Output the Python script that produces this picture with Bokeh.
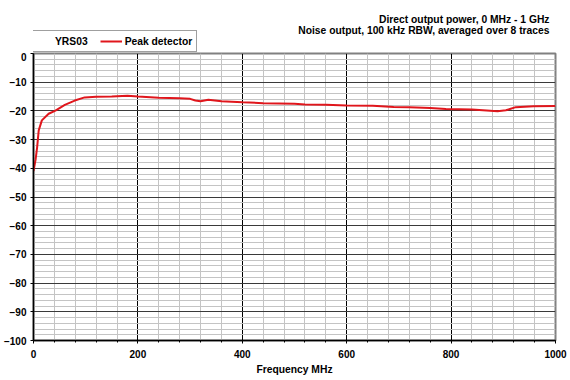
from bokeh.plotting import figure
from bokeh.models import (Range1d, SingleIntervalTicker, Legend, LegendItem, Label)
from bokeh.layouts import column
from bokeh.embed import file_html
from bokeh.resources import INLINE

# ---- data ----
freq_mhz = [0, 4, 7, 10, 16, 29, 42, 60, 79, 98, 120, 150, 180, 200, 240, 280, 300,
            310, 320, 335, 360, 400, 440, 500, 520, 560, 600, 650, 690, 720, 760,
            790, 840, 889, 905, 924, 958, 1000]
level_db = [-41.0, -37.0, -32.6, -26.8, -23.3, -21.0, -19.9, -17.9, -16.4, -15.3, -15.1,
            -15.0, -14.7, -15.0, -15.4, -15.6, -15.8, -16.4, -16.6, -16.1, -16.6, -17.0,
            -17.3, -17.5, -17.8, -17.9, -18.1, -18.2, -18.6, -18.7, -19.0, -19.3, -19.5,
            -20.1, -19.8, -18.7, -18.4, -18.3]
title_lines = ["Direct output power, 0 MHz - 1 GHz",
               "Noise output, 100 kHz RBW, averaged over 8 traces"]
legend_group = "YRS03"
series_name = "Peak detector"
x_label = "Frequency MHz"

FONT = "Liberation Sans"
FS = "10.3px"
LINE_COLOR = "#e0161c"
TOP_H = 52
LEFT, RIGHT = 30, 18

# ---------- header strip (titles + legend) ----------
top = figure(width=570, height=TOP_H, output_backend="svg", toolbar_location=None,
             x_range=Range1d(0, 1000), y_range=Range1d(0, TOP_H),
             x_axis_location=None, y_axis_location=None,
             min_border_left=LEFT, min_border_right=RIGHT,
             min_border_top=0, min_border_bottom=0)
top.grid.visible = False
top.outline_line_color = None

for txt, yc in zip(title_lines, (TOP_H - 19, TOP_H - 30)):
    top.add_layout(Label(x=1000, y=yc, x_offset=-3, text=txt, text_align="right",
                         text_baseline="middle", text_font=FONT, text_font_style="bold",
                         text_font_size=FS, text_color="black"))

# legend glyph sources (data lie outside this strip's range, so only the legend shows them)
key_blank = top.line(freq_mhz, level_db, line_alpha=0)
key_line = top.line(freq_mhz, level_db, line_color=LINE_COLOR, line_width=2)

legend = Legend(items=[LegendItem(label=legend_group, renderers=[key_blank]),
                       LegendItem(label=series_name, renderers=[key_line])],
                orientation="horizontal", location=(22 - LEFT, 0),
                label_text_font=FONT, label_text_font_style="bold",
                label_text_font_size=FS, label_text_color="black",
                glyph_width=22, glyph_height=12,
                label_standoff=3, spacing=12, padding=4, margin=0,
                border_line_color="#404040", border_line_width=1,
                label_height=11, background_fill_alpha=1)
top.add_layout(legend, "center")

# ---------- main chart ----------
p = figure(frame_width=570 - LEFT - RIGHT, frame_height=287, output_backend="svg",
           toolbar_location=None, title=None,
           x_range=Range1d(0, 1000), y_range=Range1d(-100, 0),
           min_border_left=LEFT, min_border_right=RIGHT, min_border_top=1,
           min_border_bottom=40)

p.xaxis.ticker = SingleIntervalTicker(interval=200, num_minor_ticks=5)
p.yaxis.ticker = SingleIntervalTicker(interval=10, num_minor_ticks=5)

p.xgrid.grid_line_color = "black"
p.xgrid.grid_line_width = 1
p.xgrid.minor_grid_line_color = "#c4c4c4"
p.ygrid.grid_line_color = "#3a3a3a"
p.ygrid.grid_line_width = 1
p.ygrid.minor_grid_line_color = "#c4c4c4"

p.outline_line_color = "#808080"
p.outline_line_width = 2

for ax in (p.xaxis, p.yaxis):
    ax.axis_line_color = "black"
    ax.axis_line_width = 1.5
    ax.major_tick_line_color = "black"
    ax.minor_tick_line_color = "black"
    ax.major_tick_out = 3
    ax.major_tick_in = 0
    ax.minor_tick_out = 2
    ax.minor_tick_in = 0
    ax.major_label_text_font = FONT
    ax.major_label_text_font_style = "bold"
    ax.major_label_text_font_size = "10px"
    ax.major_label_text_color = "black"

p.yaxis.minor_tick_out = 0
p.yaxis.major_label_standoff = 4
p.xaxis.major_label_standoff = 6
p.xaxis.axis_label = x_label
p.xaxis.axis_label_text_font = FONT
p.xaxis.axis_label_text_font_style = "bold"
p.xaxis.axis_label_text_font_size = FS
p.xaxis.axis_label_text_color = "black"
p.xaxis.axis_label_standoff = 3

p.line(freq_mhz, level_db, line_color=LINE_COLOR, line_width=2)

layout = column(top, p, spacing=0)
open("out.html", "w").write(file_html(layout, INLINE))
